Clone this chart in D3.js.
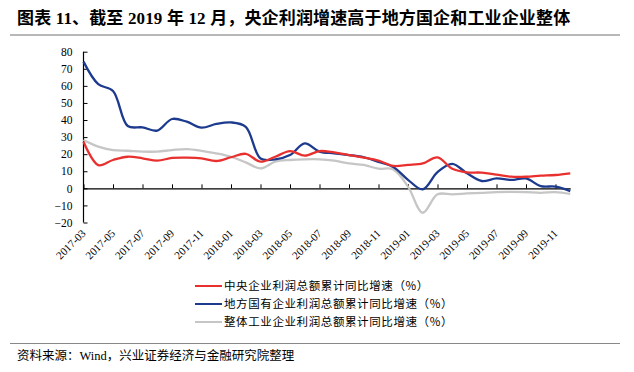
<!DOCTYPE html>
<html>
<head>
<meta charset="utf-8">
<script src="https://cdn.jsdelivr.net/npm/d3@7"></script>
<style>
  body { margin: 0; background: #fff; }
  svg { display: block; }
</style>
</head>
<body>
<div id="chart"></div>
<script>
// months on the category axis
var months = ['2017-03','2017-04','2017-05','2017-06','2017-07','2017-08','2017-09','2017-10',
  '2017-11','2017-12','2018-01','2018-02','2018-03','2018-04','2018-05','2018-06','2018-07',
  '2018-08','2018-09','2018-10','2018-11','2018-12','2019-01','2019-02','2019-03','2019-04',
  '2019-05','2019-06','2019-07','2019-08','2019-09','2019-10','2019-11','2019-12'];

// 中央企业利润总额累计同比增速
var central = [27.3, 13.6, 16.6, 18.5, 17.6, 16.2, 17.8, 18, 17.6, 16, 18.2, 20.2, 15.6, 18.5,
  21.8, 19.1, 21.8, 21, 19.5, 18, 16.2, 13.1, 13.7, 14.6, 18.1, 11.5, 9.4, 9.2, 8.0, 6.8,
  6.8, 7.4, 7.8, 8.8];
// 地方国有企业利润总额累计同比增速
var local = [74.2, 61, 57, 36.5, 35.7, 33.8, 40.6, 39, 35.5, 37.7, 38.6, 36, 17.5, 17, 19.5,
  26.3, 21.5, 20.5, 19.5, 18.2, 15.5, 12.5, 5, -0.6, 9.5, 14.3, 8.8, 4.3, 5.8, 4.9, 5.8,
  1.3, 1.0, -1.6];
// 整体工业企业利润总额累计同比增速
var industry = [28.3, 24.4, 22.4, 22, 21.5, 21.5, 22.4, 23, 22, 20.5, 18.5, 15.2, 11.7, 15.6,
  16.6, 17, 17, 16.2, 14.6, 13.7, 11.5, 11.1, 1.0, -14.3, -3.5, -3.5, -3, -2.6, -2.2, -2.1,
  -2.2, -2.6, -2.2, -3.3];

var yTicks = [-20, -10, 0, 10, 20, 30, 40, 50, 60, 70, 80];
var tickMonths = months.filter(function(d, i) { return i % 2 === 0; });

var series = [
  { name: '中央企业利润总额累计同比增速（%）', values: central, color: '#e8312f' },
  { name: '地方国有企业利润总额累计同比增速（%）', values: local, color: '#1c3a8e' },
  { name: '整体工业企业利润总额累计同比增速（%）', values: industry, color: '#c6c6c6' }
];

var W = 634, H = 372;
var svg = d3.select("#chart").append("svg")
  .attr("width", W)
  .attr("height", H);

var serif = "'Liberation Serif', 'Times New Roman', 'Noto Sans CJK SC', serif";
var cjk = "'Noto Sans CJK SC', 'Liberation Serif', sans-serif";

// title
svg.append("text")
  .attr("x", 17)
  .attr("y", 24)
  .attr("font-family", "'Liberation Serif', 'Noto Sans CJK SC', serif")
  .attr("font-weight", "bold")
  .attr("font-size", "17px")
  .attr("letter-spacing", "0.15px")
  .attr("fill", "#000")
  .text("图表 11、截至 2019 年 12 月，央企利润增速高于地方国企和工业企业整体");

svg.append("line")
  .attr("x1", 10).attr("x2", 620)
  .attr("y1", 35).attr("y2", 35)
  .attr("stroke", "#a0a0a0")
  .attr("stroke-width", 1.5);

// scales
var x = d3.scalePoint()
  .domain(months)
  .range([83.5, 570.25]);

var y = d3.scaleLinear()
  .domain([-20, 80])
  .range([222.5, 51.7]);

// y axis
var yAxis = svg.append("g")
  .attr("transform", "translate(83.5,0)")
  .call(d3.axisRight(y).tickValues(yTicks).tickSize(4).tickFormat(d3.format("d")));
yAxis.select(".domain").attr("stroke", "#000").attr("stroke-width", 1.2)
  .attr("d", "M0," + y(80) + "V" + y(-20));
yAxis.selectAll(".tick line").attr("stroke", "#000");
yAxis.selectAll(".tick text")
  .attr("x", -11)
  .attr("text-anchor", "end")
  .attr("font-family", serif)
  .attr("font-size", "11.5px")
  .attr("fill", "#000");

// x axis on the zero line, ticks pointing up
var xAxis = svg.append("g")
  .attr("transform", "translate(0," + y(0) + ")")
  .call(d3.axisTop(x).tickValues(tickMonths).tickSize(4).tickSizeOuter(0).tickFormat(""));
xAxis.select(".domain").attr("stroke", "#000").attr("stroke-width", 1.2);
xAxis.selectAll(".tick line").attr("stroke", "#000");

// rotated month labels below the plot
svg.append("g")
  .selectAll("text")
  .data(tickMonths)
  .enter()
  .append("text")
  .attr("transform", function(d) { return "translate(" + (x(d) + 3) + ",234) rotate(-45)"; })
  .attr("text-anchor", "end")
  .attr("font-family", serif)
  .attr("font-size", "11px")
  .attr("fill", "#000")
  .text(function(d) { return d; });

// lines
var line = d3.line()
  .x(function(d, i) { return x(months[i]); })
  .y(function(d) { return y(d); })
  .curve(d3.curveCatmullRom.alpha(0.5));

svg.append("g")
  .selectAll("path")
  .data(series.slice().reverse())
  .enter()
  .append("path")
  .attr("d", function(d) { return line(d.values); })
  .attr("fill", "none")
  .attr("stroke", function(d) { return d.color; })
  .attr("stroke-width", 2.3)
  .attr("stroke-linejoin", "round");

// legend
var legend = svg.append("g")
  .selectAll("g")
  .data(series)
  .enter()
  .append("g")
  .attr("transform", function(d, i) { return "translate(195," + (286 + i * 18) + ")"; });

legend.append("line")
  .attr("x1", 0).attr("x2", 27)
  .attr("stroke", function(d) { return d.color; })
  .attr("stroke-width", 2);

legend.append("text")
  .attr("x", 29)
  .attr("y", 4)
  .attr("font-family", cjk)
  .attr("font-size", "11.5px")
  .attr("letter-spacing", "0.6px")
  .attr("fill", "#000")
  .text(function(d) { return d.name; });

// source
svg.append("line")
  .attr("x1", 10).attr("x2", 620)
  .attr("y1", 343.5).attr("y2", 343.5)
  .attr("stroke", "#888")
  .attr("stroke-width", 1.2);

svg.append("text")
  .attr("x", 17)
  .attr("y", 360)
  .attr("font-family", "'Liberation Serif', 'Noto Sans CJK SC', serif")
  .attr("font-size", "12.5px")
  .attr("fill", "#000")
  .text("资料来源：Wind，兴业证券经济与金融研究院整理");
</script>
</body>
</html>
